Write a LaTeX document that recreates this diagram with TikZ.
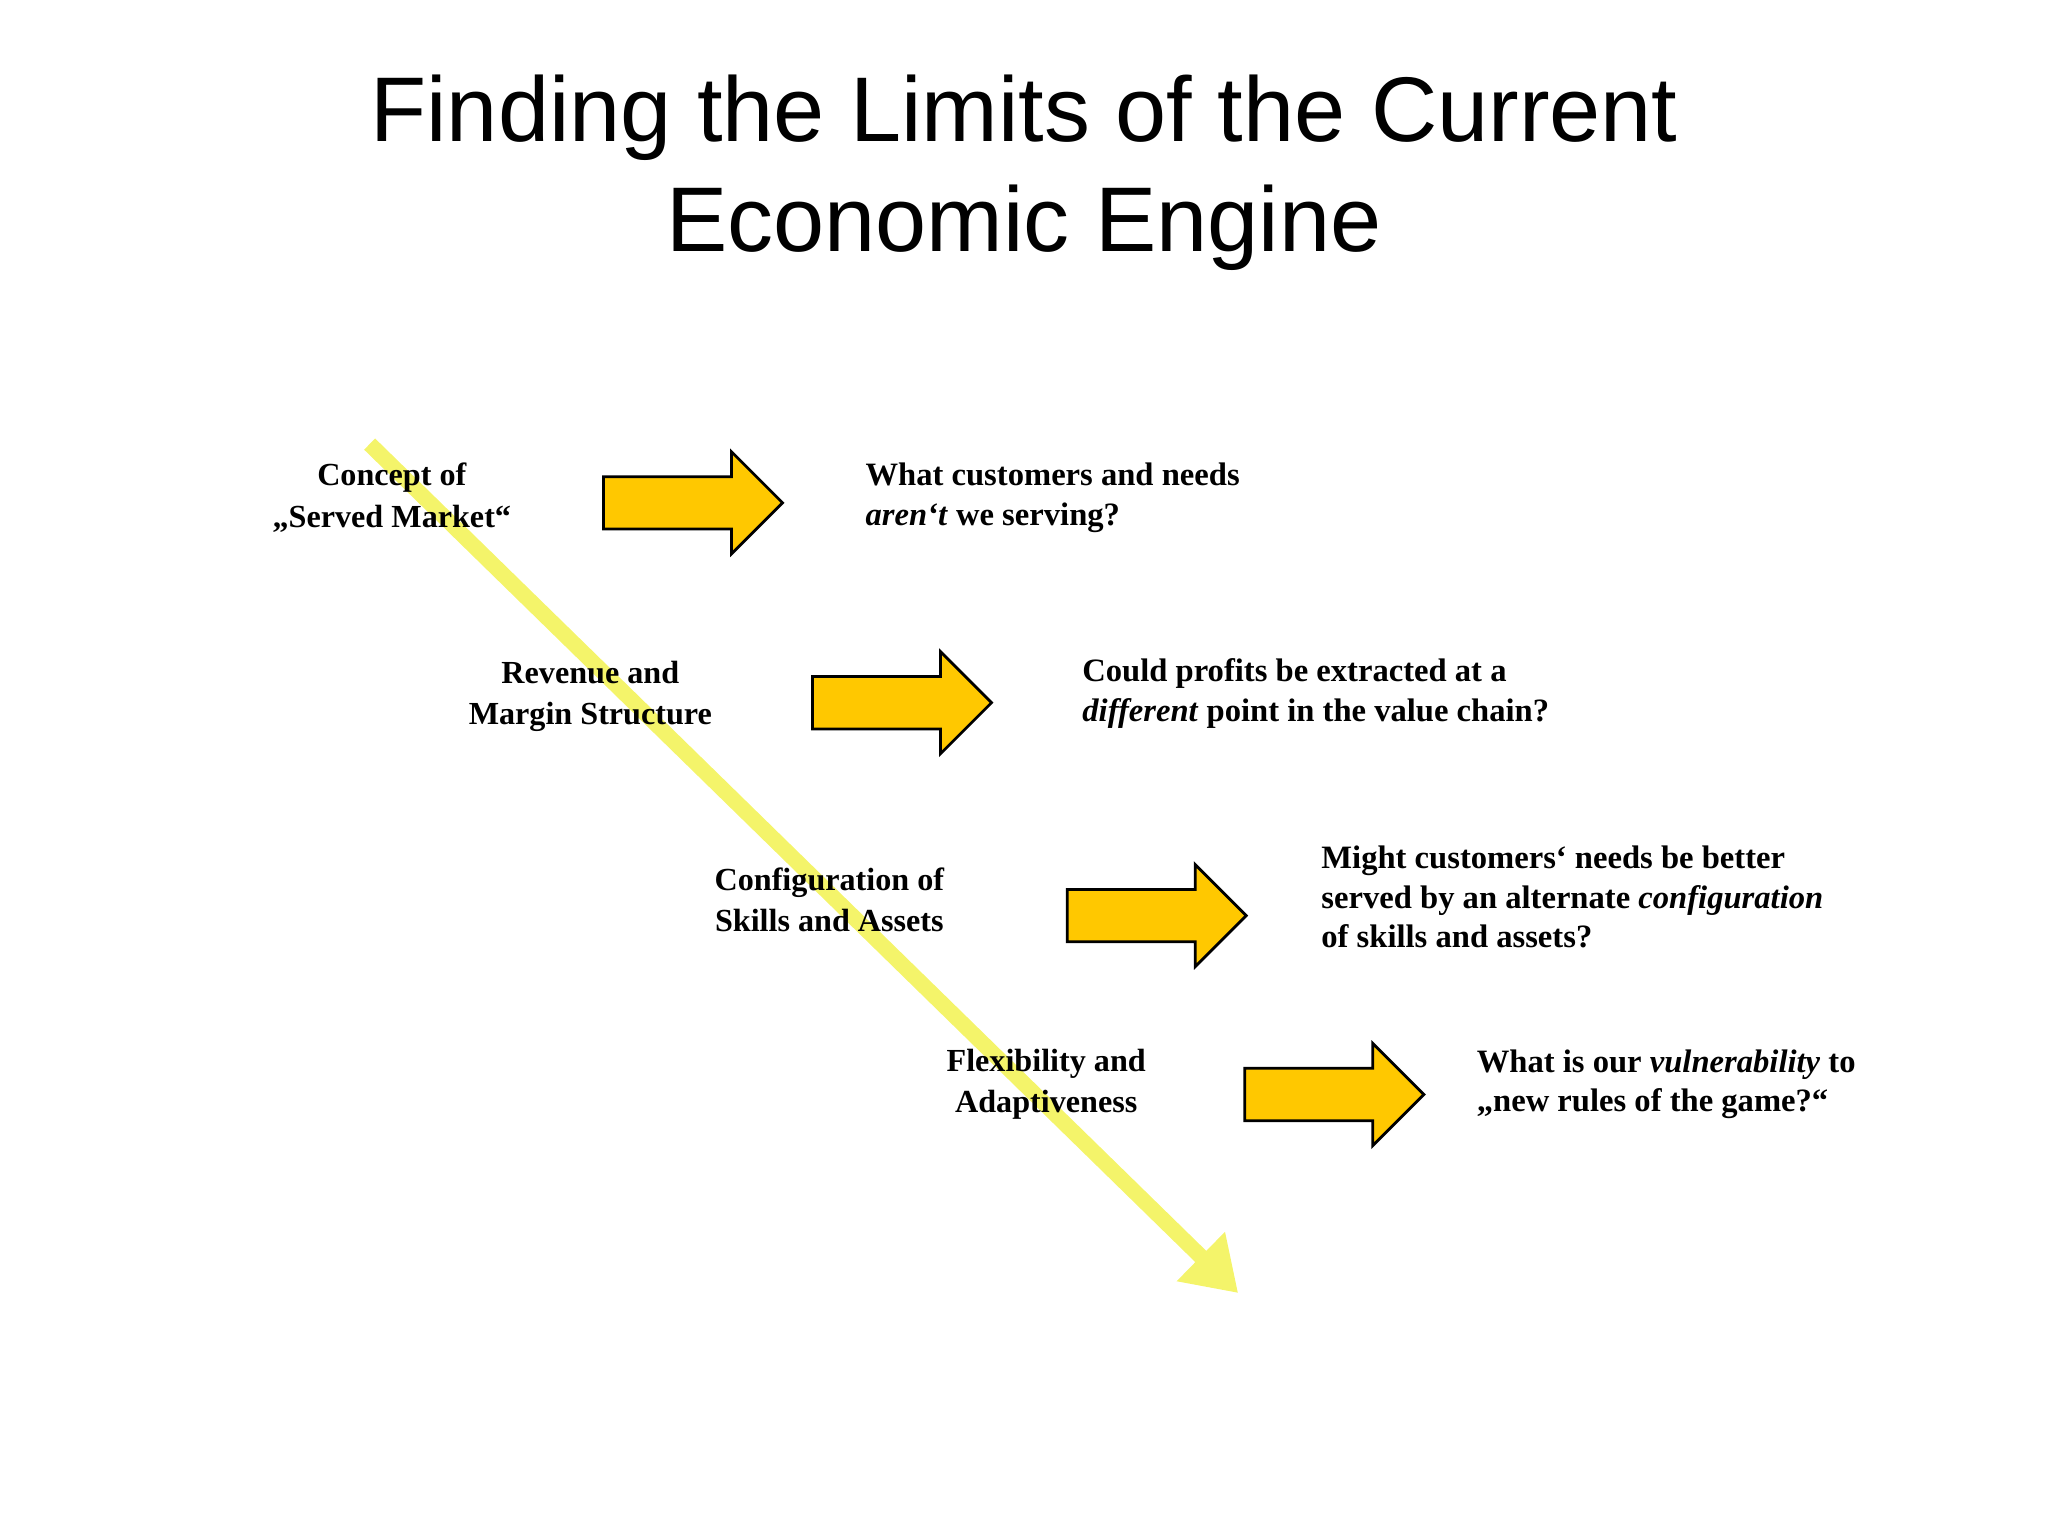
\documentclass[tikz,border=0pt]{standalone}
\usepackage{fontspec}
\setmainfont{Liberation Serif}
\newfontfamily\titlefont{Liberation Sans}
\usetikzlibrary{shapes.arrows,arrows.meta}
\definecolor{gold}{HTML}{FFC800}
\definecolor{lightyel}{HTML}{F4F46A}
\tikzset{
  blockarrow/.style={single arrow, draw=black, fill=gold, line width=0.6pt,
    minimum height=1.37cm, minimum width=0.76cm, single arrow head extend=0.19cm,
    inner xsep=0pt, inner ysep=0.19cm, anchor=west},
  lefttxt/.style={font=\bfseries\fontsize{7}{9}\selectfont, align=center},
  righttxt/.style={font=\bfseries\fontsize{7.1}{8.6}\selectfont, align=left, anchor=west, inner sep=0pt},
}
\begin{document}
\begin{tikzpicture}[x=0.01cm,y=-0.01cm]
\useasboundingbox (0,0) rectangle (1568,1176);
\node[font=\titlefont\fontsize{20}{24}\selectfont, align=center] (title) at (784,132)
  {Finding the Limits of the Current\\Economic Engine};
\coordinate (s) at (283,340);
\coordinate (e) at (948,990);
\draw[lightyel, line width=0.12cm, -{Triangle[length=0.4cm,width=0.5cm]}] (s) -- (e);
\node[lefttxt] (l1) at (300,381) {Concept of\\„Served Market“};
\node[lefttxt] (l2) at (452,533) {Revenue and\\Margin Structure};
\node[lefttxt] (l3) at (635,689) {Configuration of\\Skills and Assets};
\node[lefttxt] (l4) at (801,830) {Flexibility and\\Adaptiveness};
\node[blockarrow] (a1) at (461,385) {};
\node[blockarrow] (a2) at (621,538) {};
\node[blockarrow] (a3) at (816,701) {};
\node[blockarrow] (a4) at (952,838) {};
\node[righttxt] (r1) at (662,381) {What customers and needs\\\textit{aren‘t} we serving?};
\node[righttxt] (r2) at (828,531) {Could profits be extracted at a\\\textit{different} point in the value chain?};
\node[righttxt] (r3) at (1011,687) {Might customers‘ needs be better\\served by an alternate \textit{configuration}\\of skills and assets?};
\node[righttxt] (r4) at (1130,830) {What is our \textit{vulnerability} to\\„new rules of the game?“};
\end{tikzpicture}
\end{document}
